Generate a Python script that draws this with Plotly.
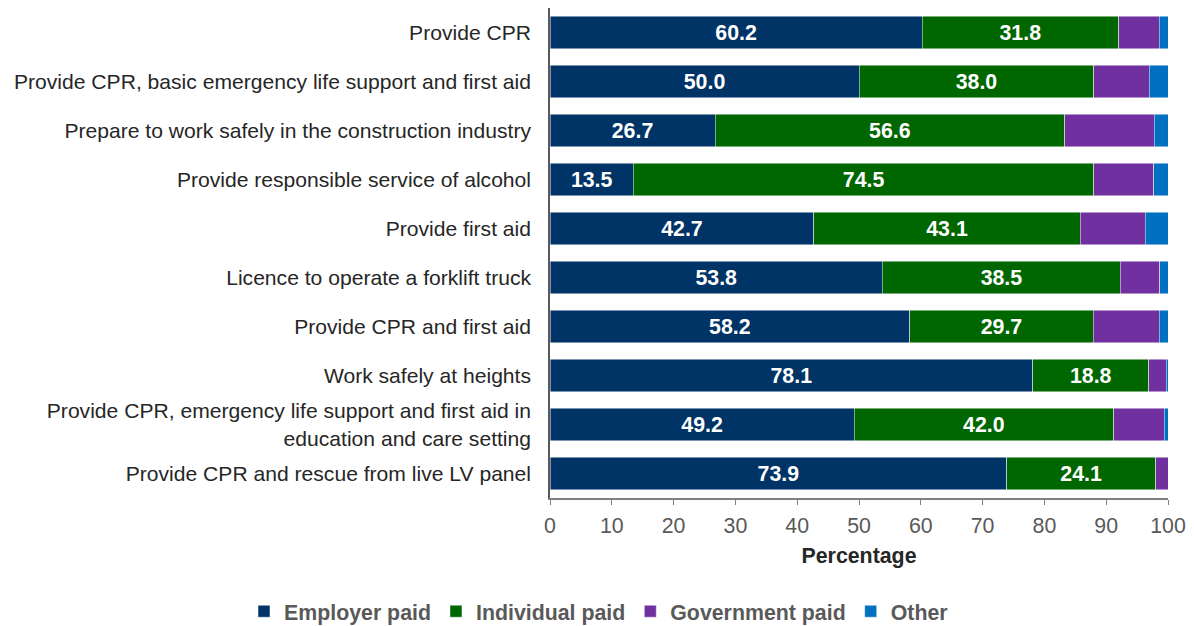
import plotly.graph_objects as go

categories = [
    "Provide CPR",
    "Provide CPR, basic emergency life support and first aid",
    "Prepare to work safely in the construction industry",
    "Provide responsible service of alcohol",
    "Provide first aid",
    "Licence to operate a forklift truck",
    "Provide CPR and first aid",
    "Work safely at heights",
    "Provide CPR, emergency life support and first aid in<br>education and care setting",
    "Provide CPR and rescue from live LV panel",
]
employer_paid = [60.2, 50.0, 26.7, 13.5, 42.7, 53.8, 58.2, 78.1, 49.2, 73.9]
individual_paid = [31.8, 38.0, 56.6, 74.5, 43.1, 38.5, 29.7, 18.8, 42.0, 24.1]
government_paid = [6.6, 9.0, 14.5, 9.7, 10.5, 6.4, 10.7, 2.8, 8.2, 2.0]
other = [1.4, 3.0, 2.2, 2.3, 3.7, 1.3, 1.4, 0.3, 0.6, 0.0]

series = [
    ("Employer paid", employer_paid, "#003366", True),
    ("Individual paid", individual_paid, "#006600", True),
    ("Government paid", government_paid, "#7030A0", False),
    ("Other", other, "#0070C0", False),
]

FS = 21.33
FONT = "Liberation Sans, Arial"

fig = go.Figure()
for name, vals, color, show_text in series:
    fig.add_trace(go.Bar(
        name=name,
        y=categories,
        x=vals,
        orientation="h",
        marker=dict(color=color, line=dict(color="rgba(255,255,255,0.6)", width=0.8)),
        texttemplate="%{x:.1f}" if show_text else None,
        textposition="inside" if show_text else "none",
        insidetextanchor="middle",
        textangle=0,
        textfont=dict(family=FONT, size=FS, color="white", weight="bold"),
        hoverinfo="x+y+name",
    ))

# Figure is offset by the page body's 8px margin, so size it to fit the window.
W, H = 1186, 618
L, R, T = 542, 26, 0
plot_h = 490.5
B = H - T - plot_h
plot_w = W - L - R

fig.update_layout(
    barmode="stack",
    bargap=0.33,
    width=W,
    height=H,
    margin=dict(l=L, r=R, t=T, b=B, autoexpand=False),
    paper_bgcolor="white",
    plot_bgcolor="white",
    font=dict(family=FONT, color="#404040"),
    legend=dict(
        orientation="h",
        xref="paper", yref="paper",
        x=(236 - L) / plot_w, xanchor="left",
        y=-(604 - plot_h) / plot_h, yanchor="middle",
        font=dict(family=FONT, size=FS, color="#595959", weight="bold"),
        traceorder="normal",
        itemwidth=30,
    ),
    showlegend=True,
)

fig.update_xaxes(
    range=[0, 100],
    dtick=10,
    showgrid=False,
    zeroline=False,
    showline=True,
    linecolor="#7f7f7f",
    linewidth=1.5,
    ticks="outside",
    ticklen=5,
    tickcolor="#7f7f7f",
    ticklabelstandoff=3,
    automargin=False,
    tickfont=dict(family=FONT, size=FS, color="#595959"),
    title=dict(text="Percentage", font=dict(family=FONT, size=FS, color="#262626", weight="bold"), standoff=11),
)
fig.update_yaxes(
    autorange="reversed",
    showgrid=False,
    showline=True,
    linecolor="#595959",
    linewidth=1.5,
    ticks="",
    ticklabelstandoff=13,
    automargin=False,
    tickfont=dict(family=FONT, size=21.1, color="#262626"),
)

fig.write_html("out.html")
